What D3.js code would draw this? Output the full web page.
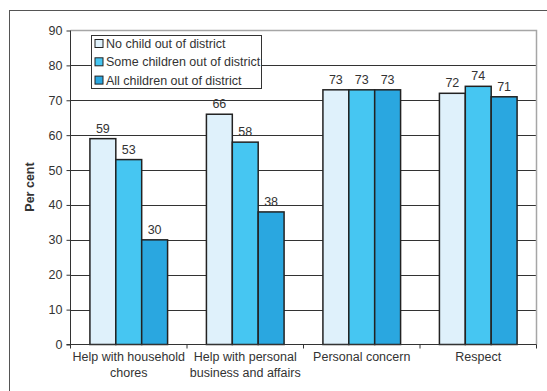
<!DOCTYPE html>
<html>
<head>
<meta charset="utf-8">
<script src="https://cdn.jsdelivr.net/npm/d3@7"></script>
<style>
  html, body { margin: 0; padding: 0; background: #fff; }
  svg { display: block; font-family: "Liberation Sans", Arial, sans-serif; }
</style>
</head>
<body>
<svg id="chart" width="547" height="391"></svg>
<script>
// Category labels (each entry is a list of lines)
const categories = [
  ["Help with household", "chores"],
  ["Help with personal", "business and affairs"],
  ["Personal concern"],
  ["Respect"]
];
const seriesNames = [
  "No child out of district",
  "Some children out of district",
  "All children out of district"
];
const noChild = [59, 66, 73, 72];
const someChildren = [53, 58, 73, 74];
const allChildren = [30, 38, 73, 71];
const yTicks = [0, 10, 20, 30, 40, 50, 60, 70, 80, 90];
const seriesColors = ["#dff1fb", "#46c6f2", "#2aa7e0"];

const seriesValues = [noChild, someChildren, allChildren];
const catKeys = categories.map((c, i) => i);
const fontSize = 12.5;

const svg = d3.select("#chart");
const plot = { left: 70.5, right: 536.5, top: 30.5, bottom: 344.5 };

// Outer frame
svg.append("rect")
  .attr("x", 9.5).attr("y", 10.5)
  .attr("width", 560).attr("height", 400)
  .attr("fill", "none").attr("stroke", "#555").attr("stroke-width", 1);

const y = d3.scaleLinear().domain([0, 90]).range([plot.bottom, plot.top]);
const x0 = d3.scaleBand().domain(catKeys).range([plot.left, plot.right]).paddingInner(0).paddingOuter(0);
const x1 = d3.scaleBand().domain([0, 1, 2]).range([0, x0.bandwidth()]).paddingInner(0).paddingOuter(0.75);

// Gridlines (below the top border)
svg.append("g")
  .selectAll("line")
  .data(yTicks.filter(t => t > 0 && t < 90))
  .join("line")
  .attr("x1", plot.left).attr("x2", plot.right)
  .attr("y1", d => Math.round(y(d)) + 0.5).attr("y2", d => Math.round(y(d)) + 0.5)
  .attr("stroke", "#333").attr("stroke-width", 1);

// Plot area border, top and right
svg.append("path")
  .attr("d", `M${plot.left},${plot.top}H${plot.right}V${plot.bottom}`)
  .attr("fill", "none").attr("stroke", "#a6a6a6").attr("stroke-width", 1.5);

// Bars
const groups = svg.append("g").selectAll("g")
  .data(catKeys)
  .join("g")
  .attr("transform", d => `translate(${x0(d)},0)`);

groups.selectAll("rect")
  .data(ci => seriesValues.map((vals, si) => ({ si, v: vals[ci] })))
  .join("rect")
  .attr("x", d => x1(d.si))
  .attr("y", d => y(d.v))
  .attr("width", x1.bandwidth())
  .attr("height", d => y(0) - y(d.v))
  .attr("fill", d => seriesColors[d.si])
  .attr("stroke", "#222").attr("stroke-width", 1.5);

groups.selectAll("text")
  .data(ci => seriesValues.map((vals, si) => ({ si, v: vals[ci] })))
  .join("text")
  .attr("x", d => x1(d.si) + x1.bandwidth() / 2)
  .attr("y", d => y(d.v) - 6)
  .attr("text-anchor", "middle")
  .attr("font-size", fontSize).attr("fill", "#333")
  .text(d => d.v);

// Y axis
const yAxis = svg.append("g")
  .attr("transform", `translate(${plot.left},0)`)
  .call(d3.axisLeft(y).tickValues(yTicks).tickSize(4).tickPadding(4));
yAxis.select(".domain").attr("stroke", "#333").attr("d", `M0,${plot.top}V${plot.bottom}`);
yAxis.selectAll(".tick line").attr("stroke", "#333");
yAxis.selectAll(".tick text").attr("font-size", fontSize).attr("fill", "#333")
  .attr("font-family", "Liberation Sans, Arial, sans-serif");

// X axis baseline with ticks at category boundaries
const xAxis = svg.append("g");
xAxis.append("line")
  .attr("x1", plot.left - 4).attr("x2", plot.right)
  .attr("y1", plot.bottom).attr("y2", plot.bottom)
  .attr("stroke", "#333");
xAxis.selectAll("line.tick")
  .data(catKeys.map(k => x0(k)).concat([plot.right]))
  .join("line").attr("class", "tick")
  .attr("x1", d => d).attr("x2", d => d)
  .attr("y1", plot.bottom).attr("y2", plot.bottom + 4)
  .attr("stroke", "#333");

// Category labels
const catLabels = svg.append("g").selectAll("text")
  .data(categories)
  .join("text")
  .attr("x", (d, i) => x0(i) + x0.bandwidth() / 2)
  .attr("y", 361)
  .attr("text-anchor", "middle")
  .attr("font-size", fontSize).attr("fill", "#333");
catLabels.selectAll("tspan")
  .data(d => d)
  .join("tspan")
  .attr("x", function () { return d3.select(this.parentNode).attr("x"); })
  .attr("dy", (d, i) => i === 0 ? 0 : 16)
  .text(d => d);

// Y axis title
svg.append("text")
  .attr("transform", "translate(34,187) rotate(-90)")
  .attr("text-anchor", "middle")
  .attr("font-size", fontSize).attr("font-weight", "bold").attr("fill", "#333")
  .text("Per cent");

// Legend
const legend = svg.append("g").attr("transform", "translate(91.5,35.5)");
legend.append("rect")
  .attr("width", 170).attr("height", 53)
  .attr("fill", "#fff").attr("stroke", "#333").attr("stroke-width", 1);
const items = legend.selectAll("g.item")
  .data(seriesNames)
  .join("g").attr("class", "item")
  .attr("transform", (d, i) => `translate(0,${4 + i * 18.3})`);
items.append("rect")
  .attr("x", 3.5).attr("y", 0)
  .attr("width", 8).attr("height", 8)
  .attr("fill", (d, i) => seriesColors[i])
  .attr("stroke", "#222").attr("stroke-width", 1);
items.append("text")
  .attr("x", 14.5).attr("y", 8.5)
  .attr("font-size", fontSize).attr("fill", "#333")
  .text(d => d);
</script>
</body>
</html>
